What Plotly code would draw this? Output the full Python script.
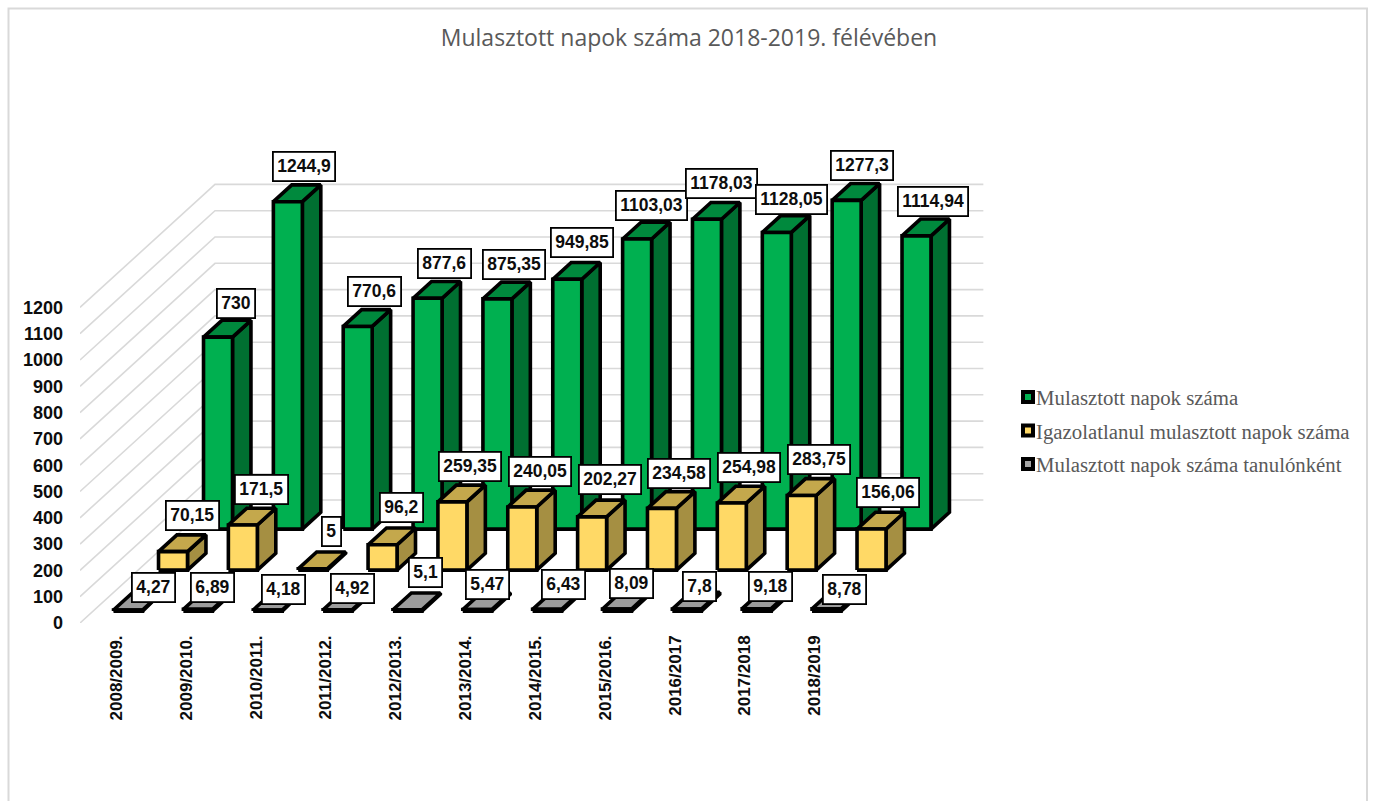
import plotly.graph_objects as go

categories = ["2008/2009.", "2009/2010.", "2010/2011.", "2011/2012.", "2012/2013.", "2013/2014.",
              "2014/2015.", "2015/2016.", "2016/2017", "2017/2018", "2018/2019"]
missed_days = [730, 1244.9, 770.6, 877.6, 875.35, 949.85, 1103.03, 1178.03, 1128.05, 1277.3, 1114.94]
unexcused_days = [70.15, 171.5, 5, 96.2, 259.35, 240.05, 202.27, 234.58, 254.98, 283.75, 156.06]
per_student_days = [4.27, 6.89, 4.18, 4.92, 5.1, 5.47, 6.43, 8.09, 7.8, 9.18, 8.78]
y_ticks = list(range(0, 1300, 100))
AXIS_TOP = 1250  # the 3D box of the original cuts taller columns here

# --- projection scales (pixels) ---
PX_X0, PX_Y0 = 80, 623
CAT_W, K = 69.85, 0.263
SLOT_DX, SLOT_DY = 45, 41
PLOT_R, PLOT_T = 1000, 100
D_X = SLOT_DX / CAT_W      # category units per depth slot
D_Y = SLOT_DY / K          # value units per depth slot
GAP, BAR_W = 0.293, 0.415
DEPTH0, DEPTH_W = 0.29, 0.41


def proj(cat, val, depth):
    return cat + depth * D_X, val + depth * D_Y


def polys(values, slot):
    side, top, front = ([], []), ([], []), ([], [])
    for i, v in enumerate(values):
        v = min(v, AXIS_TOP)
        l, r = i + GAP, i + GAP + BAR_W
        d0, d1 = slot + DEPTH0, slot + DEPTH0 + DEPTH_W
        faces = {
            "front": [(l, 0, d0), (r, 0, d0), (r, v, d0), (l, v, d0)],
            "side": [(r, 0, d0), (r, 0, d1), (r, v, d1), (r, v, d0)],
            "top": [(l, v, d0), (r, v, d0), (r, v, d1), (l, v, d1)],
        }
        for name, bucket in (("front", front), ("side", side), ("top", top)):
            pts = [proj(*p) for p in faces[name]]
            pts.append(pts[0])
            bucket[0].extend([p[0] for p in pts] + [None])
            bucket[1].extend([p[1] for p in pts] + [None])
    return side, top, front


fig = go.Figure()

# walls
gx, gy = [], []
n = len(categories)
for t in y_ticks:
    a, b, c = proj(0, t, 0), proj(0, t, 3), proj(n, t, 3)
    gx += [a[0], b[0], c[0], None]
    gy += [a[1], b[1], c[1], None]
fig.add_trace(go.Scatter(x=gx, y=gy, mode="lines", line=dict(color="#D9D9D9", width=1.6),
                         hoverinfo="skip", showlegend=False))

series = [
    ("Mulasztott napok száma", missed_days, 2, "#00B050", "#00893D", "#006F31"),
    ("Igazolatlanul mulasztott napok száma", unexcused_days, 1, "#FFD966", "#C4A84C", "#A58F42"),
    ("Mulasztott napok száma tanulónként", per_student_days, 0, "#A5A5A5", "#9C9C9C", "#6E6E6E"),
]
for name, vals, slot, c_front, c_top, c_side in series:
    side, top, front = polys(vals, slot)
    for (xs, ys), col in ((side, c_side), (top, c_top), (front, c_front)):
        fig.add_trace(go.Scatter(x=xs, y=ys, mode="lines", fill="toself", fillcolor=col,
                                 line=dict(color="black", width=3.6), hoverinfo="skip",
                                 showlegend=False))
for name, vals, slot, c_front, _, _ in series:
    fig.add_trace(go.Scatter(x=[None], y=[None], mode="markers", name=name, legendgroup=name,
                             marker=dict(symbol="square", size=10, color=c_front,
                                         line=dict(color="black", width=4))))

# data labels
def fmt(v):
    return str(v).replace(".", ",")


green_shift = [(32, 34), (31, 35), (31, 35), (31, 35), (31, 34), (29, 37), (29, 34), (29, 36), (29, 33), (30, 35), (31, 34)]
yellow_shift = [(34, 36), (33, 36), (33, 37), (33, 37), (32, 35), (32, 35), (32, 37), (32, 35), (32, 36), (32, 36), (31, 37)]
gray_shift = [(40, 22), (29, 22), (30, 21), (29, 21), (33, 37), (25, 25), (31, 25), (29, 25), (27, 23), (28, 22), (32, 19)]
shifts = {2: green_shift, 1: yellow_shift, 0: gray_shift}
annotations = []
for name, vals, slot, *_ in series:
    for i, v in enumerate(vals):
        x, y = proj(i + GAP, min(v, AXIS_TOP), slot + DEPTH0)
        dx, dy = shifts[slot][i]
        annotations.append(dict(x=x, y=y, xref="x", yref="y", text=fmt(v), showarrow=False,
                                xshift=dx, yshift=dy, xanchor="center", yanchor="middle",
                                bgcolor="white", bordercolor="black", borderwidth=1.8, borderpad=3.5,
                                font=dict(family="Liberation Sans", size=17.5, color="#0D0D0D", weight="bold")))

plot_w, plot_h = PLOT_R - PX_X0, PX_Y0 - PLOT_T
fig.add_shape(type="rect", xref="paper", yref="paper", layer="below",
              x0=(8.5 - PX_X0) / plot_w, x1=(1367 - PX_X0) / plot_w,
              y0=(PX_Y0 - 815) / plot_h, y1=(PX_Y0 - 8.5) / plot_h,
              line=dict(color="#D9D9D9", width=2))

fig.update_layout(
    width=1375, height=801, autosize=False,
    margin=dict(l=PX_X0, r=1375 - PLOT_R, t=PLOT_T, b=801 - PX_Y0, autoexpand=False),
    paper_bgcolor="white", plot_bgcolor="white",
    title=dict(text="Mulasztott napok száma 2018-2019. félévében", x=689 / 1375, xanchor="center",
               y=1 - 38 / 801, yanchor="middle",
               font=dict(family="Open Sans", size=23, color="#595959")),
    xaxis=dict(range=[0, plot_w / CAT_W], showgrid=False, zeroline=False, showline=False, ticks="",
               tickmode="array", tickvals=[i + 0.52 for i in range(n)], ticktext=categories,
               tickangle=-90, ticklabelstandoff=8,
               tickfont=dict(family="Liberation Sans", size=17, color="#0D0D0D", weight="bold")),
    yaxis=dict(range=[0, plot_h / K], showgrid=False, zeroline=False, showline=False, ticks="",
               tickmode="array", tickvals=y_ticks, ticktext=[str(t) for t in y_ticks],
               ticklabelstandoff=16,
               tickfont=dict(family="Liberation Sans", size=18, color="#0D0D0D", weight="bold")),
    legend=dict(xref="container", yref="container", x=996 / 1375, y=1 - 377 / 801,
                xanchor="left", yanchor="top", tracegroupgap=3.5, bgcolor="rgba(0,0,0,0)",
                font=dict(family="Liberation Serif", size=20.8, color="#595959")),
    annotations=annotations,
    showlegend=True,
)

post = """
document.body.style.margin='0';document.body.style.overflow='hidden';
document.querySelectorAll('.legendpoints').forEach(function(g){g.setAttribute('transform','translate(12,0)');});
"""
fig.write_html("out.html", post_script=post, config={"displayModeBar": False})
